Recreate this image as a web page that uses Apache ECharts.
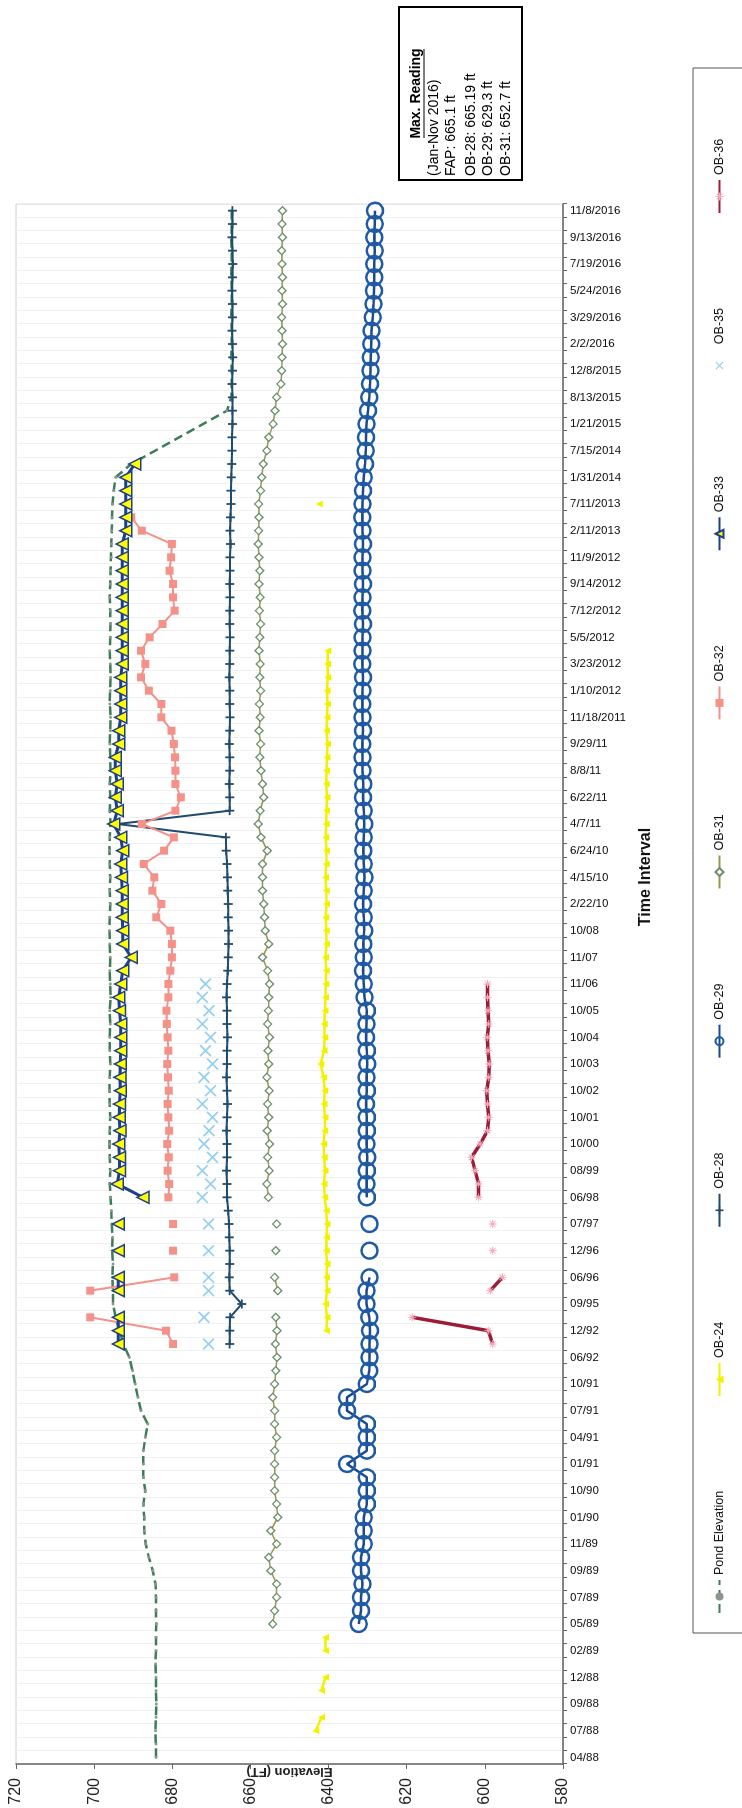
<!DOCTYPE html>
<html>
<head>
<meta charset="utf-8">
<script src="https://cdn.jsdelivr.net/npm/echarts@6.0.0/dist/echarts.min.js"></script>
<style>
html,body{margin:0;padding:0;width:742px;height:1808px;overflow:hidden;background:#fff;}
#chart{position:absolute;left:0;top:0;width:1808px;height:742px;transform-origin:0 0;transform:translateY(1808px) rotate(-90deg);}
</style>
</head>
<body>
<div id="chart"></div>
<script>
const N = null;
const categories = [
'04/88','05/88','07/88','08/88','09/88','10/88','12/88','01/89','02/89','04/89',
'05/89','06/89','07/89','08/89','09/89','10/89','11/89','12/89','01/90','04/90',
'10/90','12/90','01/91','02/91','04/91','05/91','07/91','08/91','10/91','01/92',
'06/92','09/92','12/92','03/95','09/95','03/96','06/96','09/96','12/96','04/97',
'07/97','12/97','06/98','01/99','08/99','03/00','10/00','04/01','10/01','04/02',
'10/02','04/03','10/03','04/04','10/04','04/05','10/05','04/06','11/06','05/07',
'11/07','05/08','10/08','12/09','2/22/10','3/18/10','4/15/10','5/20/10','6/24/10','12/9/10',
'4/7/11','5/12/11','6/22/11','7/14/11','8/8/11','9/1/11','9/29/11','10/25/11','11/18/2011','12/14/2011',
'1/10/2012','2/16/2012','3/23/2012','4/12/2012','5/5/2012','6/8/2012','7/12/2012','8/10/2012','9/14/2012','10/12/2012',
'11/9/2012','12/14/2012','2/11/2013','4/15/2013','7/11/2013','10/10/2013','1/31/2014','4/17/2014','7/15/2014','10/14/2014',
'1/21/2015','4/22/2015','8/13/2015','10/15/2015','12/8/2015','1/5/2016','2/2/2016','3/1/2016','3/29/2016','4/26/2016',
'5/24/2016','6/21/2016','7/19/2016','8/16/2016','9/13/2016','10/11/2016','11/8/2016'
];

const pond = [
684.2,684.2,684.3,684.2,684.1,684.2,684.2,684.3,684.2,684.2,
684.1,684.2,684.2,684.3,685.0,686.0,686.8,687.2,687.2,687.4,
686.9,687.4,687.4,687.4,686.9,686.3,688.0,688.8,689.5,690.2,
691.0,692.5,693.5,694.5,695.2,695.2,695.3,695.2,695.4,695.3,
695.5,695.6,695.8,696.0,695.9,696.0,696.1,696.0,695.9,696.0,
696.1,696.0,695.9,696.0,696.0,695.9,696.0,695.8,695.9,696.0,
695.9,696.0,696.1,696.0,695.9,696.0,695.9,696.0,696.1,696.0,
695.8,696.0,695.9,696.0,695.8,695.9,696.0,695.9,695.8,696.0,
695.9,695.8,695.9,696.0,695.9,695.8,695.9,696.0,695.9,695.8,
695.7,695.6,695.5,695.4,695.3,695.0,694.5,690.5,N,N,
N,666.0,664.9,664.8,664.8,664.9,664.8,664.8,664.9,664.8,
664.8,664.9,664.8,664.8,664.9,664.8,664.8
];

const ob24 = [
N,N,643.3,641.8,N,641.8,640.8,N,640.8,640.8,
N,N,N,N,N,N,N,N,N,N,
N,N,N,N,N,N,N,N,N,N,
N,N,640.5,640.4,640.8,640.4,640.5,640.4,640.6,640.5,
640.4,640.6,641.0,641.2,640.9,641.1,641.3,641.0,640.9,641.2,
641.0,641.3,642.0,641.2,641.0,641.1,640.9,640.8,640.7,640.6,
640.8,640.5,640.6,640.7,640.5,640.6,640.8,640.6,640.5,640.7,
640.6,640.5,640.4,640.6,640.5,640.4,640.3,640.5,640.4,640.3,
640.4,640.2,640.3,640.2,N,N,N,N,N,N,
N,N,N,N,642.4,N,N,N,N,N,
N,N,N,N,N,N,N,N,N,N,
N,N,N,N,N,N,N
];

const ob28 = [
N,N,N,N,N,N,N,N,N,N,
N,N,N,N,N,N,N,N,N,N,
N,N,N,N,N,N,N,N,N,N,
N,665.3,665.3,665.2,662.2,665.3,665.4,665.3,665.3,665.4,
665.5,665.7,666.0,666.0,666.1,666.0,666.0,666.1,666.0,665.9,
666.0,666.1,666.0,666.0,665.9,666.0,666.0,666.1,666.0,665.8,
665.7,665.6,665.6,665.7,665.7,665.8,665.9,666.0,666.2,666.3,
694.0,665.3,665.3,665.4,665.3,665.3,665.4,665.3,665.2,665.3,
665.3,665.4,665.3,665.3,665.2,665.3,665.3,665.2,665.3,665.2,
665.2,665.1,665.2,665.1,665.0,665.0,664.9,664.8,664.7,664.7,
664.6,664.6,664.6,664.7,664.6,664.5,664.6,664.7,664.6,664.6,
664.7,664.6,664.5,664.6,664.7,664.6,664.6
];

const ob29 = [
N,N,N,N,N,N,N,N,N,N,
632.3,631.7,631.7,631.3,631.7,631.7,631.0,631.0,631.0,630.2,
630.2,630.2,635.3,630.2,630.2,630.2,635.3,635.3,630.2,629.6,
629.5,629.5,629.4,629.6,630.3,630.3,629.5,N,629.5,N,
629.5,N,630.2,630.3,630.2,630.1,630.3,630.2,630.2,630.4,
630.2,630.3,630.1,630.2,630.4,630.3,630.2,630.8,631.0,631.2,
631.0,631.1,630.9,631.0,631.2,631.0,630.8,631.0,631.1,631.0,
630.9,631.0,631.2,631.1,631.3,631.3,631.4,631.2,631.3,631.4,
631.3,631.2,631.4,631.3,631.3,631.2,631.4,631.3,631.2,631.3,
631.3,631.2,631.3,631.4,631.3,631.2,631.0,630.7,630.5,630.4,
630.3,629.9,629.6,629.4,629.3,629.2,629.1,629.0,628.7,628.5,
628.4,628.3,628.3,628.2,628.3,628.2,628.1
];

const ob31 = [
N,N,N,N,N,N,N,N,N,N,
654.3,653.8,653.3,653.3,654.8,655.3,653.3,654.8,653.0,653.3,
653.8,653.8,653.8,653.8,653.3,653.8,653.8,654.3,653.8,653.5,
653.2,653.6,653.2,653.5,N,653.0,653.8,N,653.5,N,
653.3,N,655.4,655.8,655.2,655.6,655.1,655.7,655.3,655.6,
655.2,655.8,655.3,655.5,655.1,655.6,655.4,655.3,655.1,655.6,
656.9,655.3,656.2,656.4,656.6,656.9,656.9,656.9,655.7,657.3,
658.0,657.5,656.6,656.9,657.3,657.6,657.4,657.8,657.5,657.7,
657.4,657.6,657.5,657.8,657.6,657.4,657.7,657.5,657.8,657.6,
657.8,658.0,657.9,657.8,657.9,657.4,657.1,656.7,655.8,655.3,
654.2,653.7,653.3,652.2,652.0,651.9,651.8,651.9,652.0,651.8,
651.9,651.8,651.9,652.0,651.8,651.9,651.8
];

const ob32 = [
N,N,N,N,N,N,N,N,N,N,
N,N,N,N,N,N,N,N,N,N,
N,N,N,N,N,N,N,N,N,N,
N,679.8,681.6,701.0,N,701.0,679.5,N,679.8,N,
679.8,N,681.0,680.8,681.2,680.9,681.3,680.8,681.0,681.2,
680.9,681.1,681.3,681.0,681.2,681.4,681.5,681.0,681.0,680.5,
680.1,680.1,680.5,684.1,682.8,685.1,684.6,687.3,682.1,679.6,
687.8,679.2,677.8,679.2,679.2,679.3,679.6,680.2,682.8,682.8,
686.0,688.0,686.9,688.0,685.8,682.5,679.4,679.8,679.8,680.7,
680.3,680.1,687.8,690.5,N,N,N,N,N,N,
N,N,N,N,N,N,N,N,N,N,
N,N,N,N,N,N,N
];

const ob33 = [
N,N,N,N,N,N,N,N,N,N,
N,N,N,N,N,N,N,N,N,N,
N,N,N,N,N,N,N,N,N,N,
N,693.8,693.8,693.8,N,693.8,693.8,N,693.8,N,
693.8,N,687.5,694.1,693.5,693.5,693.7,693.4,693.6,693.5,
693.3,693.4,693.3,693.2,693.2,693.2,693.5,693.7,693.2,692.7,
690.5,692.7,692.7,692.8,692.8,692.8,693.0,693.2,692.7,693.2,
695.0,694.1,694.6,694.1,694.6,694.6,693.7,693.7,693.2,693.2,
693.2,693.2,692.8,692.8,692.8,692.8,692.8,692.8,692.8,692.8,
692.8,692.8,691.9,691.9,691.9,691.9,691.9,689.6,N,N,
N,N,N,N,N,N,N,N,N,N,
N,N,N,N,N,N,N
];

const ob35 = [
N,N,N,N,N,N,N,N,N,N,
N,N,N,N,N,N,N,N,N,N,
N,N,N,N,N,N,N,N,N,N,
N,670.7,N,671.9,N,670.7,670.7,N,670.7,N,
670.7,N,672.3,670.2,672.3,669.7,671.9,670.6,669.7,672.3,
670.2,671.9,669.7,671.5,670.2,672.3,670.6,672.3,671.5,N,
N,N,N,N,N,N,N,N,N,N,
N,N,N,N,N,N,N,N,N,N,
N,N,N,N,N,N,N,N,N,N,
N,N,N,N,N,N,N,N,N,N,
N,N,N,N,N,N,N,N,N,N,
N,N,N,N,N,N,N
];

const ob36 = [
N,N,N,N,N,N,N,N,N,N,
N,N,N,N,N,N,N,N,N,N,
N,N,N,N,N,N,N,N,N,N,
N,598.0,599.1,618.6,N,598.6,595.5,N,598.0,N,
598.0,N,601.6,601.6,602.5,603.4,601.2,599.3,599.0,599.3,
599.5,599.0,598.9,599.2,599.4,599.0,599.2,599.3,599.3,N,
N,N,N,N,N,N,N,N,N,N,
N,N,N,N,N,N,N,N,N,N,
N,N,N,N,N,N,N,N,N,N,
N,N,N,N,N,N,N,N,N,N,
N,N,N,N,N,N,N,N,N,N,
N,N,N,N,N,N,N
];

const elevationMin = 580, elevationMax = 720, elevationStep = 20;
const boxTitle = 'Max. Reading';
const boxLines = ['(Jan-Nov 2016)', 'FAP: 665.1 ft', 'OB-28: 665.19 ft', 'OB-29: 629.3 ft', 'OB-31: 652.7 ft'];

const FONT = '"Liberation Sans", Arial, Helvetica, sans-serif';
const PLUS = 'path://M4,0H6V4H10V6H6V10H4V6H0V4H4Z';
const CROSS = 'path://M1,0L5,4L9,0L10,1L6,5L10,9L9,10L5,6L1,10L0,9L4,5L0,1Z';
const STAR = 'path://M4.4,0H5.6V3.6L8.2,1L9,1.8L6.4,4.4H10V5.6H6.4L9,8.2L8.2,9L5.6,6.4V10H4.4V6.4L1.8,9L1,8.2L3.6,5.6H0V4.4H3.6L1,1.8L1.8,1L4.4,3.6Z';

function mk(name, data, o) {
  return Object.assign({
    name: name, type: 'line', data: data, showAllSymbol: true,
    connectNulls: false, animation: false, emphasis: {disabled: true}
  }, o);
}

const series = [
  mk('Pond Elevation', pond, {connectNulls: true, symbol: 'circle', symbolSize: 3,
    itemStyle: {color: '#8c968e'}, lineStyle: {color: '#3d7d57', width: 2.5, type: [9, 5]}}),
  mk('OB-24', ob24, {symbol: 'triangle', symbolSize: 7,
    itemStyle: {color: '#f2f200'}, lineStyle: {color: '#f2f200', width: 2.5}}),
  mk('OB-28', ob28, {symbol: PLUS, symbolSize: 9,
    itemStyle: {color: '#1f4b6e'}, lineStyle: {color: '#1f4b6e', width: 2}}),
  mk('OB-29', ob29, {symbol: 'circle', symbolSize: 16,
    itemStyle: {color: 'rgba(255,255,255,0)', borderColor: '#1f5aa6', borderWidth: 2.5},
    lineStyle: {color: '#1a4a8f', width: 2.5}}),
  mk('OB-31', ob31, {symbol: 'diamond', symbolSize: 8,
    itemStyle: {color: '#ffffff', borderColor: '#6d8f6d', borderWidth: 1.3},
    lineStyle: {color: '#9a9650', width: 1.5}}),
  mk('OB-32', ob32, {symbol: 'rect', symbolSize: 8,
    itemStyle: {color: '#f4928a'}, lineStyle: {color: '#f4928a', width: 2}}),
  mk('OB-33', ob33, {symbol: 'triangle', symbolSize: 12,
    itemStyle: {color: '#ffff00', borderColor: '#1f3f86', borderWidth: 1.5},
    lineStyle: {color: '#1f3f86', width: 3}}),
  mk('OB-35', ob35, {symbol: CROSS, symbolSize: 12,
    itemStyle: {color: '#92cff0'}, lineStyle: {color: '#92cff0', width: 0, opacity: 0}}),
  mk('OB-36', ob36, {symbol: STAR, symbolSize: 8,
    itemStyle: {color: '#f3a9ba'}, lineStyle: {color: '#9c1c35', width: 3.5}})
];

const chart = echarts.init(document.getElementById('chart'), null, {width: 1808, height: 742, renderer: 'canvas'});

const graphics = [
  {type: 'rect', z: 10, shape: {x: 175, y: 693, width: 1565, height: 70},
   style: {fill: 'none', stroke: '#555', lineWidth: 1}},
  {type: 'rect', z: 10, shape: {x: 1628, y: 399, width: 173, height: 123},
   style: {fill: '#fff', stroke: '#000', lineWidth: 2}},
  {type: 'text', z: 11, style: {text: boxTitle, x: 1714.5, y: 416, align: 'center', verticalAlign: 'middle',
   fontFamily: FONT, fontSize: 14, fontWeight: 'bold', fill: '#000'}},
  {type: 'line', z: 11, shape: {x1: 1670, y1: 424, x2: 1759, y2: 424}, style: {stroke: '#000', lineWidth: 1}}
];
const lineY = [434, 451, 471, 488, 506];
boxLines.forEach(function (t, k) {
  graphics.push({type: 'text', z: 11, style: {text: t, x: 1632, y: lineY[k], align: 'left', verticalAlign: 'middle',
    fontFamily: FONT, fontSize: 14, fill: '#000'}});
});

chart.setOption({
  animation: false,
  backgroundColor: '#ffffff',
  grid: {left: 44, right: 204, top: 16, bottom: 179, show: true, borderColor: '#cccccc', borderWidth: 1,
         containLabel: false, outerBoundsMode: 'none'},
  legend: {
    data: series.map(function (s) { return s.name; }),
    left: 194, top: 713, orient: 'horizontal', itemGap: 94, itemWidth: 33, itemHeight: 10, padding: 0,
    textStyle: {fontFamily: FONT, fontSize: 12.5, color: '#111'}
  },
  xAxis: {
    type: 'category', data: categories, boundaryGap: true, position: 'bottom',
    axisLine: {show: true, lineStyle: {color: '#666', width: 1.5}},
    axisTick: {show: true, interval: 0, length: 4, lineStyle: {color: '#666'}},
    axisLabel: {interval: 1, rotate: -90, margin: 7, fontSize: 11.5, color: '#111', fontFamily: FONT},
    splitLine: {show: true, interval: 0, lineStyle: {color: '#f0f0f0', width: 1}},
    name: 'Time Interval', nameLocation: 'middle', nameGap: 75, nameMoveOverlap: false,
    nameTextStyle: {fontFamily: FONT, fontSize: 16, fontWeight: 'bold', color: '#111', padding: [0, 0, 0, 214]}
  },
  yAxis: {
    type: 'value', min: elevationMin, max: elevationMax, interval: elevationStep, position: 'left',
    axisLine: {show: true, lineStyle: {color: '#666', width: 1.5}},
    axisTick: {show: true, length: 5, lineStyle: {color: '#666'}},
    axisLabel: {margin: 14, fontSize: 16, color: '#222', fontFamily: FONT},
    splitLine: {show: false},
    name: 'Elevation (FT)', nameLocation: 'middle', nameRotate: 90, nameGap: 1, nameMoveOverlap: false,
    nameTextStyle: {fontFamily: FONT, fontSize: 13, fontWeight: 'bold', color: '#222'}
  },
  graphic: graphics,
  series: series
});
</script>
</body>
</html>
